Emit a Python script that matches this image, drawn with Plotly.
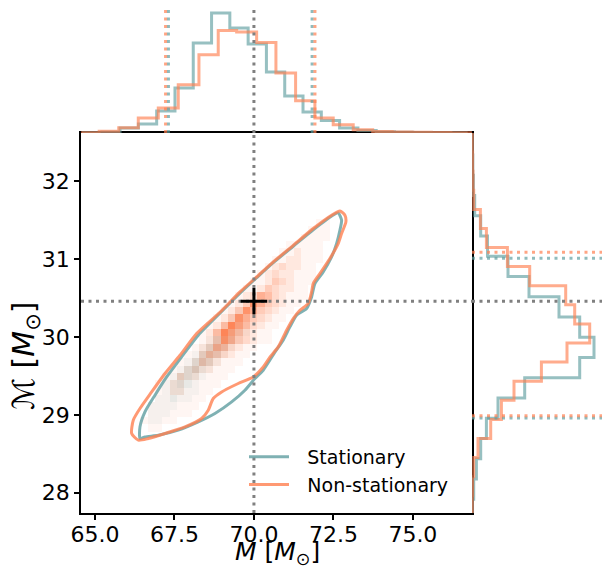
import plotly.graph_objects as go

# ---------------- data ----------------
M_TRUE = 70.0
MC_TRUE = 30.46

q_M_stat = [67.31, 71.83]
q_M_nons = [67.22, 71.92]
q_Mc_stat = [28.96, 31.01]
q_Mc_nons = [28.99, 31.09]

# marginal histogram of total mass M (top panel)
M_edges_stat = [64.638, 65.214, 65.789, 66.365, 66.940, 67.516, 68.091, 68.667, 69.242,
                69.818, 70.393, 70.969, 71.544, 72.120, 72.695, 73.271, 73.846, 74.422,
                74.997, 75.573, 76.148, 76.724]
M_hist_stat = [0.3, 1.0, 5, 9, 22, 45, 90, 120, 105, 89, 61, 37, 21, 12.5, 5, 2.6,
               1.2, 0.7, 0.4, 0.2, 0.1]
M_edges_nons = [64.517, 65.132, 65.747, 66.362, 66.991, 67.619, 68.270, 68.877, 69.456,
                70.085, 70.692, 71.311, 71.918, 72.494, 73.123, 73.736, 74.352, 74.969,
                75.582, 76.195, 76.811]
M_hist_nons = [0.3, 1.7, 5.3, 15, 25, 48.3, 78.3, 102.6, 101, 90.6, 60, 32.3, 15, 8.3,
               3.3, 1.6, 1.0, 0.7, 0.5, 0.3]

# marginal histogram of chirp mass (right panel)
Mc_edges_stat = [27.658, 27.918, 28.178, 28.438, 28.698, 28.958, 29.218, 29.478, 29.737,
                 29.997, 30.257, 30.517, 30.777, 31.037, 31.297, 31.557, 31.817, 32.077,
                 32.337, 32.597]
Mc_hist_stat = [0.5, 1.7, 4.4, 8.7, 14.4, 26, 52.7, 107.7, 122, 107.7, 87, 57, 36, 15.5,
                8.7, 2.7, 1.5, 0.8, 0.3]
Mc_edges_nons = [27.716, 27.961, 28.207, 28.452, 28.697, 28.942, 29.187, 29.433, 29.678,
                 29.923, 30.168, 30.413, 30.659, 30.904, 31.149, 31.394, 31.639, 31.884,
                 32.130, 32.375, 32.620]
Mc_hist_nons = [0.3, 0.6, 1.7, 6, 18.7, 29.4, 42, 69.4, 95, 117.7, 102.7, 93.7, 57.7,
                35.4, 14.4, 8.4, 1.7, 1.0, 0.6, 0.3]

# credible-region contours
cont_stat_M = [66.415, 66.415, 66.572, 66.887, 67.255, 67.726, 68.248, 68.931, 69.560,
               70.085, 70.607, 71.236, 71.865, 72.484, 72.651, 72.758, 72.704, 72.600,
               72.443, 72.179, 71.918, 71.814, 71.657, 71.343, 71.132, 70.921, 70.660,
               70.292, 70.031, 69.717, 69.299, 68.774, 68.248, 67.619, 66.991, 66.572,
               66.415]
cont_stat_Mc = [28.697, 28.846, 29.039, 29.253, 29.488, 29.745, 30.023, 30.306, 30.562,
                30.761, 30.954, 31.166, 31.377, 31.564, 31.593, 31.499, 31.371, 31.200,
                31.028, 30.836, 30.687, 30.515, 30.366, 30.280, 30.130, 29.959, 29.805,
                29.574, 29.467, 29.317, 29.167, 29.018, 28.910, 28.804, 28.739, 28.717,
                28.697]
cont_nons_M = [66.154, 66.204, 66.415, 66.783, 67.201, 67.673, 68.198, 68.931, 69.560,
               70.085, 70.607, 71.236, 71.865, 72.443, 72.704, 72.862, 72.893, 72.758,
               72.651, 72.390, 72.075, 71.865, 71.814, 71.708, 71.447, 71.236, 71.028,
               70.764, 70.503, 70.292, 69.978, 69.506, 68.984, 68.720, 68.563, 68.355,
               67.830, 67.201, 66.676, 66.362, 66.154]
cont_nons_Mc = [28.761, 28.932, 29.082, 29.295, 29.531, 29.766, 30.045, 30.318, 30.579,
                30.771, 30.964, 31.178, 31.393, 31.564, 31.619, 31.564, 31.478, 31.329,
                31.200, 31.008, 30.815, 30.687, 30.579, 30.430, 30.344, 30.237, 30.087,
                29.873, 29.741, 29.616, 29.488, 29.403, 29.295, 29.210, 29.060, 28.954,
                28.846, 28.761, 28.697, 28.675, 28.761]

# 2-D density (levels 0-9), rows bottom -> top, one char per column
HM_X0, HM_DX = 66.2, 0.23
HM_Y0, HM_DY = 28.6, 0.094
dens_nons_rows = [
    "",
    "",
    "..11",
    ".11111",
    "..111111",
    "..1111111",
    "...1111111",
    "...11221111",
    "...112211111",
    "....113221111",
    ".....112322111",
    "......112432111",
    ".......113543211",
    "........123653211",
    ".........1248643211",
    ".........1259753211",
    "..........1259753211",
    "...........1248643211",
    "............1248643211",
    ".............1248643211",
    "..............1236532111",
    "...............112432211",
    "................112432111",
    ".................12322111",
    "..................1232211",
    "...................1122111",
    "....................112111",
    ".....................11111",
    ".......................1111",
    "........................111",
    ".........................11",
    "",
    "",
]
dens_stat_rows = [
    "",
    "",
    "",
    "..11",
    "..111",
    "..1111",
    "...11211",
    "....12211",
    "....12321",
    ".....13321",
    "......13421",
    ".......13431",
    "........13431",
    ".........13431",
    "..........13431",
    "...........13321",
    "............1221",
    ".............121",
    "..............11",
    "",
    "",
    "",
    "",
    "",
    "",
    "",
    "",
    "",
    "",
    "",
    "",
    "",
    "",
]

# ---------------- helpers ----------------
NCOL = 30
NROW = len(dens_nons_rows)
hm_x = [HM_X0 + HM_DX * (i + 0.5) for i in range(NCOL)]
hm_y = [HM_Y0 + HM_DY * (j + 0.5) for j in range(NROW)]


def grid(rows):
    z = []
    for r in rows:
        r = r.ljust(NCOL, ".")
        z.append([0 if ch == "." else int(ch) for ch in r[:NCOL]])
    return z


def steps(edges, heights):
    a, b = [edges[0]], [0]
    for i, h in enumerate(heights):
        a += [edges[i], edges[i + 1]]
        b += [h, h]
    a.append(edges[-1])
    b.append(0)
    return a, b


TEAL = "95,158,160"
ORNG = "255,127,80"
GREY = "rgb(128,128,128)"
DOT = "3px,4.5px"
FONT = "DejaVu Sans"

TOP_MAX = 125
RIGHT_MAX = 130
X_RANGE = [64.56, 76.86]
Y_RANGE = [27.74, 32.62]

fig = go.Figure()

# density images
fig.add_trace(go.Heatmap(x=hm_x, y=hm_y, z=grid(dens_stat_rows), zmin=0, zmax=9,
                         colorscale=[[0, f"rgba({TEAL},0)"], [1 / 9, f"rgba({TEAL},0.06)"],
                                     [1, f"rgba({TEAL},0.8)"]],
                         showscale=False, hoverinfo="skip", xaxis="x", yaxis="y"))
fig.add_trace(go.Heatmap(x=hm_x, y=hm_y, z=grid(dens_nons_rows), zmin=0, zmax=9,
                         colorscale=[[0, f"rgba({ORNG},0)"], [1 / 9, f"rgba({ORNG},0.07)"],
                                     [1, f"rgba({ORNG},0.95)"]],
                         showscale=False, hoverinfo="skip", xaxis="x", yaxis="y"))

# contours
fig.add_trace(go.Scatter(x=cont_stat_M, y=cont_stat_Mc, mode="lines",
                         name="\u2002\u2009Stationary",
                         line=dict(color=f"rgba({TEAL},0.8)", width=3, shape="spline",
                                   smoothing=0.6),
                         xaxis="x", yaxis="y"))
fig.add_trace(go.Scatter(x=cont_nons_M, y=cont_nons_Mc, mode="lines",
                         name="\u2002\u2009Non-stationary",
                         line=dict(color=f"rgba({ORNG},0.8)", width=3, shape="spline",
                                   smoothing=0.6),
                         xaxis="x", yaxis="y"))

# top marginal histograms
for edges, hist, col in [(M_edges_stat, M_hist_stat, TEAL), (M_edges_nons, M_hist_nons, ORNG)]:
    sx, sy = steps(edges, hist)
    fig.add_trace(go.Scatter(x=sx, y=sy, mode="lines", showlegend=False, hoverinfo="skip",
                             line=dict(color=f"rgba({col},0.65)", width=3),
                             xaxis="x2", yaxis="y2"))
# right marginal histograms
for edges, hist, col in [(Mc_edges_stat, Mc_hist_stat, TEAL), (Mc_edges_nons, Mc_hist_nons, ORNG)]:
    sy, sx = steps(edges, hist)
    fig.add_trace(go.Scatter(x=sx, y=sy, mode="lines", showlegend=False, hoverinfo="skip",
                             line=dict(color=f"rgba({col},0.65)", width=3),
                             xaxis="x3", yaxis="y3"))

# quantile lines
for q, col in [(q_M_stat, TEAL), (q_M_nons, ORNG)]:
    for v in q:
        fig.add_trace(go.Scatter(x=[v, v], y=[0, TOP_MAX], mode="lines", showlegend=False,
                                 hoverinfo="skip",
                                 line=dict(color=f"rgba({col},0.7)", width=3, dash=DOT),
                                 xaxis="x2", yaxis="y2"))
for q, col in [(q_Mc_stat, TEAL), (q_Mc_nons, ORNG)]:
    for v in q:
        fig.add_trace(go.Scatter(x=[0, RIGHT_MAX], y=[v, v], mode="lines", showlegend=False,
                                 hoverinfo="skip",
                                 line=dict(color=f"rgba({col},0.7)", width=3, dash=DOT),
                                 xaxis="x3", yaxis="y3"))

# truth lines
truth_line = dict(color=GREY, width=3, dash=DOT)
fig.add_trace(go.Scatter(x=[M_TRUE, M_TRUE], y=Y_RANGE, mode="lines", showlegend=False,
                         hoverinfo="skip", line=truth_line, xaxis="x", yaxis="y"))
fig.add_trace(go.Scatter(x=X_RANGE, y=[MC_TRUE, MC_TRUE], mode="lines", showlegend=False,
                         hoverinfo="skip", line=truth_line, xaxis="x", yaxis="y"))
fig.add_trace(go.Scatter(x=[M_TRUE, M_TRUE], y=[0, TOP_MAX], mode="lines", showlegend=False,
                         hoverinfo="skip", line=truth_line, xaxis="x2", yaxis="y2"))
fig.add_trace(go.Scatter(x=[0, RIGHT_MAX], y=[MC_TRUE, MC_TRUE], mode="lines", showlegend=False,
                         hoverinfo="skip", line=truth_line, xaxis="x3", yaxis="y3"))

# truth marker
fig.add_trace(go.Scatter(x=[M_TRUE], y=[MC_TRUE], mode="markers", showlegend=False,
                         marker=dict(symbol="cross-thin", size=19,
                                     line=dict(color="black", width=3)),
                         xaxis="x", yaxis="y"))

XD = [81 / 602, 472 / 602]
YD = [(571 - 513) / 571, (571 - 133) / 571]

fig.update_layout(
    width=602, height=571, autosize=False,
    margin=dict(l=0, r=0, t=0, b=0),
    paper_bgcolor="white", plot_bgcolor="rgba(0,0,0,0)",
    font=dict(family=FONT, color="black", size=21),
    showlegend=True,
    legend=dict(x=244 / 602, y=(571 - 438) / 571, xanchor="left", yanchor="top",
                bgcolor="rgba(0,0,0,0)", font=dict(size=19, family=FONT),
                itemwidth=40, tracegroupgap=0),
    xaxis=dict(domain=XD, range=X_RANGE, anchor="y",
               tickvals=[65, 67.5, 70, 72.5, 75],
               ticktext=["65.0", "67.5", "70.0", "72.5", "75.0"],
               ticks="outside", ticklen=5, tickwidth=1.5, tickcolor="black",
               showline=True, linecolor="black", linewidth=1.6, mirror=True,
               showgrid=False, zeroline=False, automargin=False,
               ticklabelstandoff=-4,
               tickfont=dict(size=22, family=FONT)),
    yaxis=dict(domain=YD, range=Y_RANGE, anchor="x",
               tickvals=[28, 29, 30, 31, 32],
               ticks="outside", ticklen=5, tickwidth=1.5, tickcolor="black",
               showline=True, linecolor="black", linewidth=1.6, mirror=True,
               showgrid=False, zeroline=False, automargin=False,
               tickfont=dict(size=22, family=FONT)),
    xaxis2=dict(domain=XD, matches="x", anchor="y2", visible=False),
    yaxis2=dict(domain=[(571 - 133) / 571, (571 - 8) / 571], range=[0, TOP_MAX],
                anchor="x2", visible=False),
    xaxis3=dict(domain=[472 / 602, 1.0], range=[0, RIGHT_MAX], anchor="y3", visible=False),
    yaxis3=dict(domain=YD, matches="y", anchor="x3", visible=False),
    annotations=[
        dict(text="ℳ [<i>M</i><sub>⊙</sub>]", textangle=-90,
             xref="paper", yref="paper", x=26 / 602, y=(571 - 356) / 571,
             xanchor="center", yanchor="middle", showarrow=False,
             font=dict(size=30, family=FONT, color="black")),
        dict(text="<i>M</i> [<i>M</i><sub>⊙</sub>]",
             xref="paper", yref="paper", x=277 / 602, y=0,
             xanchor="center", yanchor="bottom", showarrow=False,
             font=dict(size=25, family=FONT, color="black")),
    ],
)

fig.write_html("out.html", config={"displayModeBar": False},
               post_script="document.body.style.margin='0';")
